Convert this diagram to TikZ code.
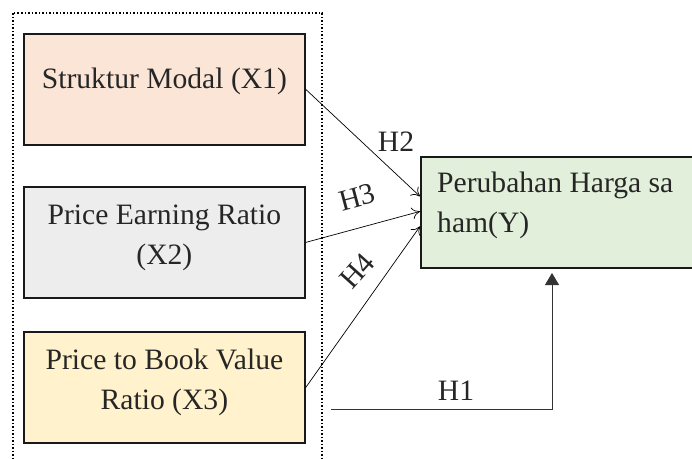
\documentclass[tikz,border=0pt]{standalone}
\usepackage{fontspec}
\setmainfont{Liberation Serif}
\usetikzlibrary{arrows.meta,calc}
\definecolor{txt}{HTML}{262626}
\definecolor{cxa}{HTML}{FBE5D6}
\definecolor{cxb}{HTML}{EDEDED}
\definecolor{cxc}{HTML}{FFF2CC}
\definecolor{cy}{HTML}{E2EFDA}
\tikzset{
  varbox/.style={draw=black!90, line width=1.8pt, rectangle, minimum width=281pt, minimum height=111pt, inner sep=0pt, anchor=north west},
  lbl/.style={font=\fontsize{29.6}{40}\selectfont, text=txt, inner sep=0pt},
  conn/.style={line width=0.7pt, -{To[length=8pt,width=12pt]}},
  hconn/.style={line width=0.8pt, draw=black!80, -{Triangle[length=12pt,width=14pt]}}
}
\begin{document}
\begin{tikzpicture}[x=1pt,y=-1pt]
\clip (0,0) rectangle (692,458);
\fill[white] (0,0) rectangle (692,458);
% dotted group box
\draw[dotted, line width=1.5pt] (13,13) rectangle (322,470);
% variable boxes
\node[varbox, fill=cxa] (x1) at (23,33) {};
\node[varbox, fill=cxb] (x2) at (23,186) {};
\node[varbox, fill=cxc] (x3) at (23,331) {};
\node[varbox, fill=cy, minimum width=290pt] (y) at (420,156) {};
% texts
\node[lbl] (t1) at ($(x1.center)+(0,-8)$) {Struktur Modal (X1)};
\node[lbl, align=center] (t2) at ($(x2.center)+(0,-5)$) {Price Earning Ratio\\(X2)};
\node[lbl, align=center] (t3) at ($(x3.center)+(0,-5)$) {Price to Book Value\\Ratio (X3)};
\node[lbl, align=left, anchor=north west] (ty) at (437,172) {Perubahan Harga sa\\ham(Y)};
% connectors
\draw[conn] (x1.east) -- ($(y.west)+(0,-16)$);
\draw[conn] (x2.east) -- ($(y.west)+(0,-1)$);
\draw[conn] (x3.east) -- ($(y.west)+(0,14)$);
\coordinate (h1s) at (331,409);
\coordinate (h1e) at (552,273);
\draw[hconn] (h1s) -| (h1e);
% labels
\node[lbl] (h2) at (396,142) {H2};
\node[lbl, rotate=15] (h3) at (357,197) {H3};
\node[lbl, rotate=48] (h4) at (357,271) {H4};
\node[lbl] (h1) at (456,391) {H1};
\end{tikzpicture}
\end{document}
